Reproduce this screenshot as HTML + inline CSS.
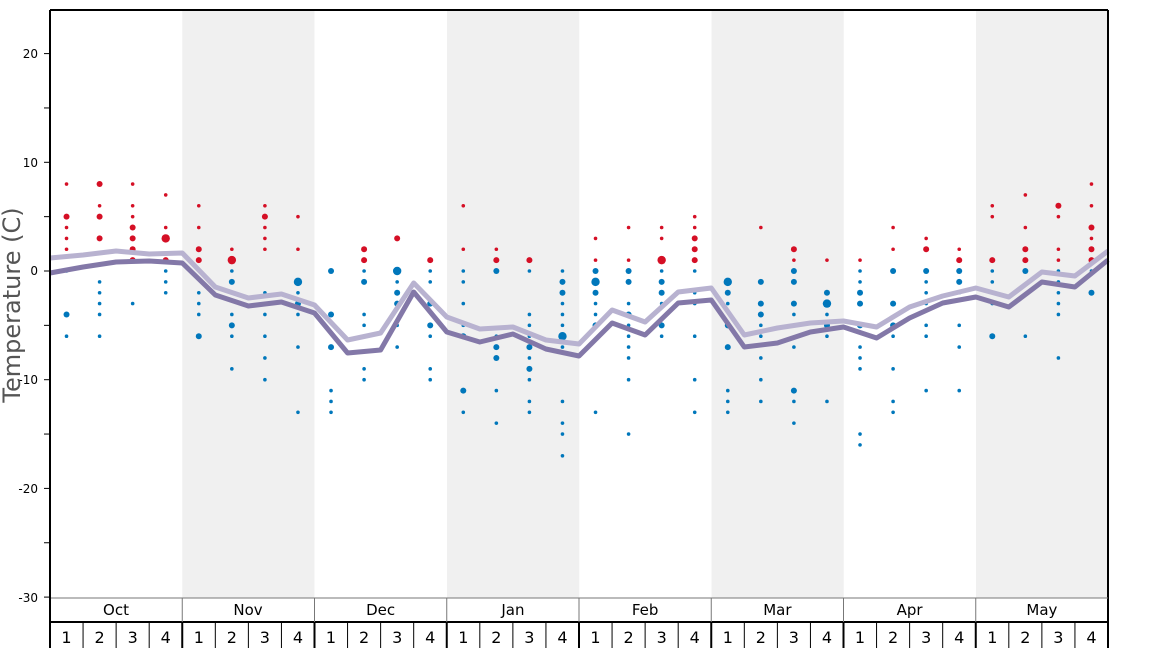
<!DOCTYPE html>
<html><head><meta charset="utf-8"><style>
html,body{margin:0;padding:0;background:#fff;}
svg{display:block;font-family:"DejaVu Sans","Liberation Sans",sans-serif;}
</style></head><body>
<svg id="s" width="1168" height="648" viewBox="0 0 1168 648">
<g fill="#f0f0f0">
<rect x="182.25" y="10" width="132.25" height="588"/>
<rect x="447" y="10" width="132.25" height="588"/>
<rect x="711.5" y="10" width="132.25" height="588"/>
<rect x="976" y="10" width="132" height="588"/>
</g>
<g id="dots"></g>
<polyline id="l1" fill="none" stroke="#b8b2d0" stroke-width="5" stroke-linejoin="round"/>
<polyline id="l2" fill="none" stroke="#8378a8" stroke-width="5" stroke-linejoin="round"/>
<line x1="50" y1="10" x2="1108" y2="10" stroke="#000" stroke-width="2"/>
<line x1="1108" y1="10" x2="1108" y2="648" stroke="#000" stroke-width="2"/>
<line x1="50" y1="598" x2="1108" y2="598" stroke="#777" stroke-width="1"/>
<line x1="50" y1="622" x2="1108" y2="622" stroke="#000" stroke-width="2"/>
<line x1="50" y1="10" x2="50" y2="648" stroke="#000" stroke-width="2"/>
<g id="ticks" stroke="#000" stroke-width="1"></g>
<g id="grid"></g>
<g font-size="12" text-anchor="end" fill="#000">
<text x="38" y="58">20</text>
<text x="38" y="167">10</text>
<text x="38" y="275">0</text>
<text x="38" y="384">-10</text>
<text x="38" y="493">-20</text>
<text x="38" y="602">-30</text>
</g>
<text transform="translate(20,305) rotate(-90)" font-size="24" fill="#555" text-anchor="middle">Temperature (C)</text>
<g font-size="15" text-anchor="middle" fill="#000">
<text x="116" y="615">Oct</text><text x="248" y="615">Nov</text><text x="380.6" y="615">Dec</text><text x="512.9" y="615">Jan</text>
<text x="645.1" y="615">Feb</text><text x="777.4" y="615">Mar</text><text x="909.6" y="615">Apr</text><text x="1041.9" y="615">May</text>
</g>
<g font-size="16" text-anchor="middle" fill="#000">
<text x="66.5" y="643">1</text><text x="99.6" y="643">2</text><text x="132.7" y="643">3</text><text x="165.7" y="643">4</text>
<text x="198.8" y="643">1</text><text x="231.8" y="643">2</text><text x="264.9" y="643">3</text><text x="298" y="643">4</text>
<text x="331" y="643">1</text><text x="364.1" y="643">2</text><text x="397.2" y="643">3</text><text x="430.2" y="643">4</text>
<text x="463.3" y="643">1</text><text x="496.3" y="643">2</text><text x="529.4" y="643">3</text><text x="562.5" y="643">4</text>
<text x="595.5" y="643">1</text><text x="628.6" y="643">2</text><text x="661.7" y="643">3</text><text x="694.7" y="643">4</text>
<text x="727.8" y="643">1</text><text x="760.8" y="643">2</text><text x="793.9" y="643">3</text><text x="827" y="643">4</text>
<text x="860" y="643">1</text><text x="893.1" y="643">2</text><text x="926.2" y="643">3</text><text x="959.2" y="643">4</text>
<text x="992.3" y="643">1</text><text x="1025.3" y="643">2</text><text x="1058.4" y="643">3</text><text x="1091.5" y="643">4</text>
</g>
</svg>
<script>
var NS="http://www.w3.org/2000/svg",W=1058/32;
function Y(t){return 271-10.87*t;}
function el(p,n,a){var e=document.createElementNS(NS,n);for(var k in a)e.setAttribute(k,a[k]);p.appendChild(e);return e;}
var tk=document.getElementById("ticks");
for(var t=-30;t<=20;t+=5){var y=Y(t);el(tk,"line",{x1:44,y1:y,x2:50,y2:y});}
var g=document.getElementById("grid");
for(var i=1;i<32;i++){var x=50+i*W;
 if(i%4==0)el(g,"line",{x1:x,y1:598,x2:x,y2:622,stroke:"#777","stroke-width":1});
 el(g,"line",{x1:x,y1:622,x2:x,y2:648,stroke:"#000","stroke-width":i%4==0?2:1});}
var D=["8s 5m 4s 3s 2s 0s -4m -6s","8m 6s 5m 3m -1s -2s -3s -4s -6s","8s 6s 5s 4m 3m 2m 1m -3s","7s 4s 3L 1m 0s -1s -2s",
"6s 4s 2m 1m -2s -3s -4s -6m","2s 1L 0s -1m -4s -5m -6s -9s","6s 5m 4s 3s 2s -2s -3s -4s -6s -8s -10s","5s 2s -1L -2s -3m -4s -7s -13s",
"0m -4m -7m -11s -12s -13s","2m 1m 0s -1m -4s -5s -9s -10s","3m 0L -1s -2m -3m -5s -7s","1m 0s -1s -3m -5m -6s -9s -10s",
"6s 2s 0s -1s -3s -5s -6m -11m -13s","2s 1m 0m -6s -7m -8m -11s -14s","1m 0s -4s -5s -6s -7m -8s -9m -10s -12s -13s","0s -1m -2m -3s -4s -5s -6L -7s -12s -14s -15s -17s",
"3s 1s 0m -1L -2m -3s -4s -5m -13s","4s 1s 0m -1m -3s -4m -5s -6s -7s -8s -10s -15s","4s 3s 1L 0s -1m -2m -3s -5m -6s","5s 4s 3m 2m 1m 0s -2s -3s -6s -10s -13s",
"-1L -2m -3s -5m -7m -11s -12s -13s","4s -1m -3m -4m -5s -6s -8s -10s -12s","2m 1s 0m -1m -3m -4s -5s -7s -11m -12s -14s","1s -2m -3L -4s -5m -6s -12s",
"1s 0s -1s -2m -3m -5m -7s -8s -9s -15s -16s","4s 2s 0m -3m -5m -6s -9s -12s -13s","3s 2m 0m -1s -2s -3s -5s -6s -11s","2s 1m 0m -1m -2s -5s -7s -11s",
"6s 5s 1m 0s -1s -3s -6m","7s 4s 2m 1m 0m -6s","6m 5s 2s 1s 0s -1s -2s -3s -4s -8s","8s 6s 4m 3s 2m 1m 0s -2m"];
var R={s:1.8,m:3,L:4.2},dg=document.getElementById("dots");
D.forEach(function(w,i){var x=50+(i+0.5)*W;w.split(" ").forEach(function(d){var t=parseFloat(d),r=R[d.slice(-1)];
 el(dg,"circle",{cx:x,cy:Y(t),r:r,fill:t>0?"#d50f25":"#0077bb"});});});
var dark=[273,267,262,261,263,295,306,302,313,353,350,292,332,342,334,349,356,323,335,303,300,347,343,332,327,338,318,303,297,307,282,287,260];
var light=[258,255,251,254,253,287,298,294,305,340,333,283,317,329,327,340,344,310,322,292,288,335,328,323,321,327,307,296,288,297,272,276,251];
function pts(a){return a.map(function(y,i){return (50+i*W).toFixed(1)+","+y;}).join(" ");}
document.getElementById("l1").setAttribute("points",pts(light));
document.getElementById("l2").setAttribute("points",pts(dark));
</script>
</body></html>
